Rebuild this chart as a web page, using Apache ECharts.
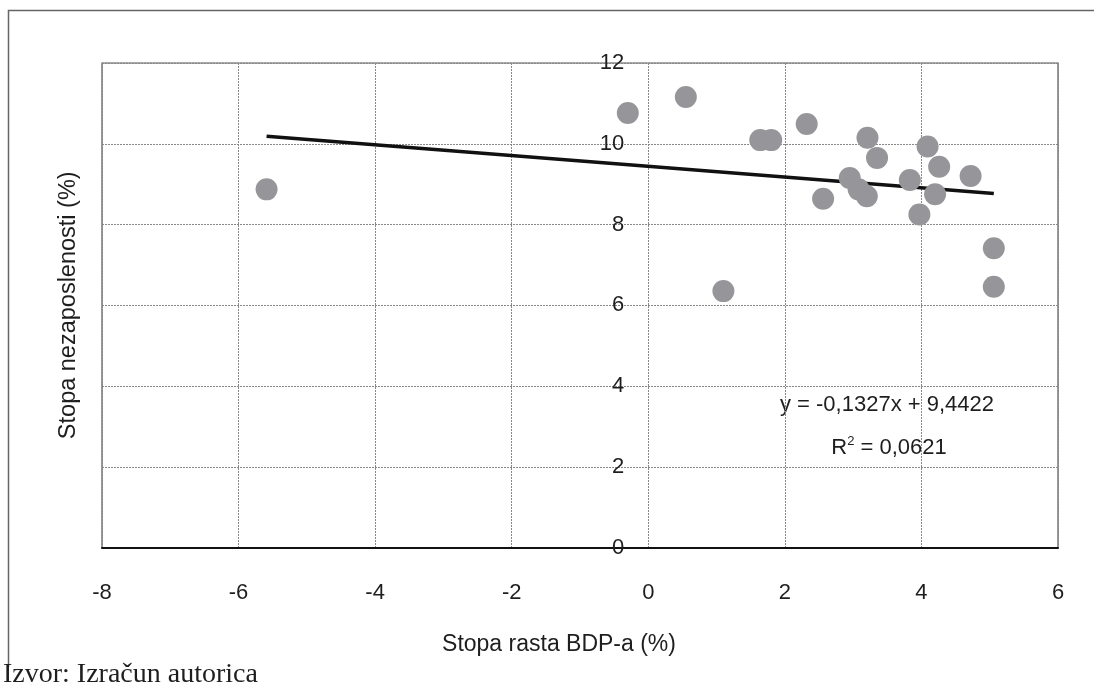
<!DOCTYPE html>
<html>
<head>
<meta charset="utf-8">
<script src="https://cdn.jsdelivr.net/npm/echarts@6/dist/echarts.min.js"></script>
<style>
  html, body { margin: 0; padding: 0; background: #fff; }
  #chart { width: 1094px; height: 687px; }
</style>
</head>
<body>
<div id="chart"></div>
<script>
// GDP growth rate (%) and unemployment rate (%) per observation
const gdpGrowth = [-5.59, -0.30, 0.55, 1.10, 1.64, 1.80, 2.32, 2.56, 2.95, 3.08, 3.20,
                   3.21, 3.35, 3.83, 3.97, 4.09, 4.20, 4.26, 4.72, 5.06, 5.06];
const unemployment = [8.87, 10.76, 11.16, 6.35, 10.09, 10.09, 10.49, 8.64, 9.15, 8.87, 8.70,
                      10.15, 9.65, 9.10, 8.25, 9.93, 8.75, 9.43, 9.20, 7.41, 6.46];

// Linear trend: y = slope * x + intercept
const trendSlope = -0.1327;
const trendIntercept = 9.4422;
const rSquared = '0,0621';

const xTicks = { min: -8, max: 6, step: 2 };
const yTicks = { min: 0, max: 12, step: 2 };

const points = gdpGrowth.map((x, i) => [x, unemployment[i]]);
const xLo = Math.min(...gdpGrowth);
const xHi = Math.max(...gdpGrowth);
const trend = [[xLo, trendSlope * xLo + trendIntercept], [xHi, trendSlope * xHi + trendIntercept]];

const fmt = v => v.toFixed(4).replace('.', ',');
const eqText = 'y = ' + fmt(trendSlope) + 'x + ' + fmt(trendIntercept);

const font = '"Liberation Sans", Arial, sans-serif';
const W = 1094;
const grid = { left: 102, top: 63, right: 36, bottom: 139.5 };

// Vertical axis sits where x = 0 crosses the plot
const plotWidth = W - grid.left - grid.right;
const zeroShift = plotWidth * (0 - xTicks.min) / (xTicks.max - xTicks.min);

const chart = echarts.init(document.getElementById('chart'), null, { renderer: 'canvas' });

const option = {
  animation: false,
  backgroundColor: '#fff',
  textStyle: { fontFamily: font },
  grid: Object.assign({
    show: true,
    borderColor: '#555',
    borderWidth: 1.2,
    containLabel: false,
    outerBoundsMode: 'none'
  }, grid),
  xAxis: {
    type: 'value',
    min: xTicks.min,
    max: xTicks.max,
    interval: xTicks.step,
    axisLine: { show: true, onZero: true, lineStyle: { color: '#111', width: 2 } },
    axisTick: { show: false },
    axisLabel: { fontSize: 22, color: '#1e1e1e', margin: 34, fontFamily: font },
    splitLine: { show: true, lineStyle: { color: '#888', width: 1, type: [2, 1] } },
    name: 'Stopa rasta BDP-a (%)',
    nameLocation: 'middle',
    nameGap: 86,
    nameTextStyle: { fontSize: 23, color: '#1e1e1e', fontFamily: font, padding: [0, 42, 0, 0] }
  },
  yAxis: {
    type: 'value',
    min: yTicks.min,
    max: yTicks.max,
    interval: yTicks.step,
    offset: -zeroShift,
    axisLine: { show: false },
    axisTick: { show: false },
    axisLabel: { fontSize: 22, color: '#1e1e1e', margin: 24, fontFamily: font },
    splitLine: { show: true, lineStyle: { color: '#888', width: 1, type: [2, 1] } },
    name: 'Stopa nezaposlenosti (%)',
    nameLocation: 'middle',
    nameGap: 568,
    nameMoveOverlap: false,
    nameTextStyle: { fontSize: 23.5, color: '#1e1e1e', fontFamily: font }
  },
  series: [
    {
      type: 'line',
      data: trend,
      symbol: 'none',
      lineStyle: { color: '#111', width: 3.5 },
      z: 2,
      silent: true
    },
    {
      type: 'scatter',
      data: points,
      symbol: 'circle',
      symbolSize: 22,
      itemStyle: { color: '#96969a', opacity: 1 },
      z: 3
    }
  ],
  graphic: [
    {
      type: 'polyline',
      shape: { points: [[8.5, 667], [8.5, 10.5], [1094, 10.5]] },
      style: { stroke: '#666', lineWidth: 1.5, fill: null },
      silent: true
    },
    {
      type: 'text',
      x: 887,
      y: 405,
      style: {
        text: eqText,
        font: '22px ' + font,
        fill: '#1e1e1e',
        align: 'center',
        verticalAlign: 'middle'
      }
    },
    {
      type: 'text',
      x: 889,
      y: 448,
      style: {
        text: 'R{sup|2} = ' + rSquared,
        font: '22px ' + font,
        fill: '#1e1e1e',
        align: 'center',
        verticalAlign: 'middle',
        rich: {
          sup: { fontSize: 13, fontFamily: font, fill: '#1e1e1e', padding: [0, 0, 14, 0] }
        }
      }
    },
    {
      type: 'text',
      x: 3,
      y: 661,
      style: {
        text: 'Izvor: Izračun autorica',
        font: '28px "Liberation Serif", "Times New Roman", serif',
        fill: '#1e1e1e',
        align: 'left',
        verticalAlign: 'top'
      }
    }
  ]
};

chart.setOption(option);
</script>
</body>
</html>
